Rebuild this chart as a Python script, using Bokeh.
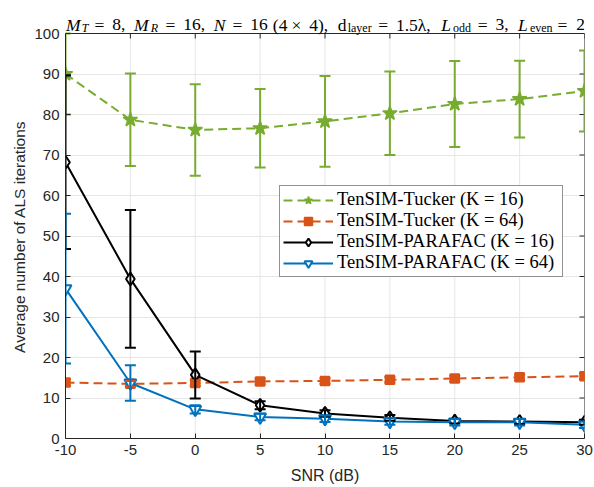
from bokeh.plotting import figure
from bokeh.models import (ColumnDataSource, Whisker, TeeHead, FixedTicker, Range1d)
from bokeh.core.properties import value
from bokeh.embed import file_html
from bokeh.resources import INLINE

# ---------------- data ----------------
snr = [-10, -5, 0, 5, 10, 15, 20, 25, 30]

tucker16 = [90.0, 78.7, 76.2, 76.6, 78.3, 80.3, 82.6, 83.8, 85.8]
tucker16_err = [10.0, 11.4, 11.3, 9.7, 11.2, 10.3, 10.6, 9.5, 10.0]

tucker64 = [13.8, 13.5, 13.7, 14.1, 14.2, 14.5, 14.8, 15.1, 15.4]
tucker64_err = [0.8, 0.7, 0.7, 0.7, 0.7, 0.7, 0.7, 0.7, 0.7]

parafac16 = [68.2, 39.4, 15.7, 8.2, 6.2, 5.1, 4.3, 4.2, 4.0]
parafac16_err = [21.4, 17.0, 5.8, 1.0, 0.8, 0.7, 0.6, 0.6, 0.6]

parafac64 = [37.0, 13.7, 7.2, 5.3, 4.9, 4.2, 4.0, 4.0, 3.4]
parafac64_err = [18.5, 4.4, 1.0, 0.8, 0.8, 0.8, 0.8, 0.8, 0.8]

x_ticks = [-10, -5, 0, 5, 10, 15, 20, 25, 30]
y_ticks = [0, 10, 20, 30, 40, 50, 60, 70, 80, 90, 100]

labels = ["TenSIM-Tucker (K = 16)", "TenSIM-Tucker (K = 64)",
          "TenSIM-PARAFAC (K = 16)", "TenSIM-PARAFAC (K = 64)"]

# title pieces: (text, x px, kind) kind: m main, mi main italic, s sub, si sub italic
title_parts = [
    ("M", 62, "mi"), ("T", 78, "si"), ("=", 91, "m"), ("8,", 109, "m"),
    ("M", 131, "mi"), ("R", 148, "si"), ("=", 163, "m"), ("16,", 181, "m"),
    ("N", 212, "mi"), ("=", 231, "m"), ("16", 249, "m"), ("(4", 272, "m"),
    ("×", 291, "m"), ("4),", 309, "m"),
    ("d", 338, "m"), ("layer", 348, "s"), ("=", 379, "m"), ("1.5λ,", 397, "m"),
    ("L", 443, "mi"), ("odd", 455, "s"), ("=", 480, "m"), ("3,", 498, "m"),
    ("L", 521, "mi"), ("even", 533, "s"), ("=", 561, "m"), ("2", 580, "m"),
]

# ---------------- layout (pixels) ----------------
W, H = 594, 487
FL, FR, FT, FB = 65, 584, 33, 438      # axes box in the picture
PX_X = (FR - FL) / (x_ticks[-1] - x_ticks[0])
PX_Y = (FB - FT) / (y_ticks[-1] - y_ticks[0])
Y_TOP = y_ticks[-1] + FT / PX_Y         # plot frame reaches the top edge


def X(px):
    return x_ticks[0] + (px - FL) / PX_X


def Y(py):
    return y_ticks[0] + (FB - py) / PX_Y


AX = "#262626"
GRID = "#e6e6e6"
GREEN, ORANGE, BLACK, BLUE = "#77AC30", "#D95319", "#000000", "#0072BD"

p = figure(width=W, height=H, output_backend="svg", toolbar_location=None,
           title=None, x_range=Range1d(x_ticks[0], x_ticks[-1]),
           y_range=Range1d(y_ticks[0], Y_TOP),
           min_border_left=FL, min_border_right=W - FR, min_border_top=0,
           min_border_bottom=H - FB, background_fill_color="white",
           border_fill_color="white", outline_line_color=None)

p.xaxis.ticker = FixedTicker(ticks=x_ticks)
p.yaxis.ticker = FixedTicker(ticks=y_ticks)
p.xaxis.major_label_overrides = {t: str(t) for t in x_ticks}
p.xaxis.bounds = (x_ticks[0], x_ticks[-1])
p.yaxis.bounds = (y_ticks[0], y_ticks[-1])
for ax in (p.xaxis[0], p.yaxis[0]):
    ax.major_tick_in = 5
    ax.major_tick_out = 0
    ax.minor_tick_line_color = None
    ax.axis_line_color = AX
    ax.major_tick_line_color = AX
    ax.major_label_text_font = "Liberation Sans"
    ax.major_label_text_font_size = "15px"
    ax.major_label_text_color = AX
    ax.axis_label_text_font = "Liberation Sans"
    ax.axis_label_text_font_style = "normal"
    ax.axis_label_text_color = AX
p.xaxis.axis_label_text_font_size = "16px"
p.yaxis.axis_label_text_font_size = "15.5px"
p.xaxis.axis_label = "SNR (dB)"
# the frame reaches the top edge, so the label is centred on the box by
# trailing no-break spaces
p.yaxis.axis_label = "Average number of ALS iterations" + "\u00a0" * 8
p.xaxis.major_label_standoff = 6
p.yaxis.major_label_standoff = 6
p.xaxis.axis_label_standoff = 9
p.yaxis.axis_label_standoff = 3

# horizontal grid spans the x range exactly; vertical grid drawn up to the box top
p.ygrid.grid_line_color = GRID
p.xgrid.visible = False
vg = p.segment(x0=x_ticks, y0=[y_ticks[0]] * len(x_ticks), x1=x_ticks,
               y1=[y_ticks[-1]] * len(x_ticks), line_color=GRID, line_width=1)
vg.level = "underlay"

# box top and right edges with inward ticks
tick_y = 5 / PX_Y
tick_x = 5 / PX_X
p.segment(x0=[x_ticks[0], x_ticks[-1]], y0=[y_ticks[-1], y_ticks[0]],
          x1=[x_ticks[-1], x_ticks[-1]], y1=[y_ticks[-1], y_ticks[-1]],
          line_color=AX, line_width=1)
p.segment(x0=x_ticks, y0=[y_ticks[-1] - tick_y] * len(x_ticks), x1=x_ticks,
          y1=[y_ticks[-1]] * len(x_ticks), line_color=AX, line_width=1)
p.segment(x0=[x_ticks[-1] - tick_x] * len(y_ticks), y0=y_ticks,
          x1=[x_ticks[-1]] * len(y_ticks), y1=y_ticks, line_color=AX, line_width=1)

# ---------------- series ----------------
series = [
    (tucker16, tucker16_err, GREEN, "dashed", "star", 15, GREEN, labels[0]),
    (tucker64, tucker64_err, ORANGE, "dashed", "square", 9, ORANGE, labels[1]),
    (parafac16, parafac16_err, BLACK, "solid", "diamond", 13, "white", labels[2]),
    (parafac64, parafac64_err, BLUE, "solid", "inverted_triangle", 12, "white", labels[3]),
]

for vals, errs, col, dash, marker, size, fill, lab in series:
    src = ColumnDataSource(dict(
        x=snr, y=vals,
        upper=[v + e for v, e in zip(vals, errs)],
        lower=[v - e for v, e in zip(vals, errs)],
    ))
    w = Whisker(source=src, base="x", upper="upper", lower="lower",
                dimension="height", line_color=col, line_width=2,
                upper_head=TeeHead(size=11, line_color=col, line_width=2),
                lower_head=TeeHead(size=11, line_color=col, line_width=2))
    w.level = "glyph"
    p.add_layout(w)
    p.line("x", "y", source=src, line_color=col, line_width=2,
           line_dash="9 5" if dash == "dashed" else "solid", legend_label=lab)
    p.scatter("x", "y", source=src, marker=marker, size=size, line_color=col,
              fill_color=fill, line_width=2 if fill == "white" else 1.5,
              legend_label=lab)

lg = p.legend[0]
lg.location = (214, 161)
lg.label_text_font = "Liberation Serif"
lg.label_text_font_size = "18.5px"
lg.label_text_color = "#000000"
lg.glyph_width = 50
lg.glyph_height = 20
lg.label_height = 20
lg.label_width = 222
lg.label_standoff = 4
lg.spacing = 0
lg.padding = 3
lg.margin = 0
lg.border_line_color = AX
lg.border_line_width = 1
lg.background_fill_alpha = 1

# ---------------- title (inside the frame's top strip) ----------------
T_LEFT, T_SCALE = 65.5, 0.985
styles = {"m": ("17.5px", "normal", 24), "mi": ("17.5px", "italic", 24),
          "s": ("12px", "normal", 27.5), "si": ("12px", "italic", 27.5)}
for kind, (fs, fst, base) in styles.items():
    parts = [t for t in title_parts if t[2] == kind]
    p.text(x=[X(T_LEFT + (t[1] - 62) * T_SCALE) for t in parts],
           y=[Y(base)] * len(parts),
           text=[t[0] for t in parts], text_font=value("Liberation Serif"),
           text_font_size=value(fs), text_font_style=fst,
           text_color="#000000", text_baseline="alphabetic", text_align="left")

open("out.html", "w").write(file_html(p, INLINE))
